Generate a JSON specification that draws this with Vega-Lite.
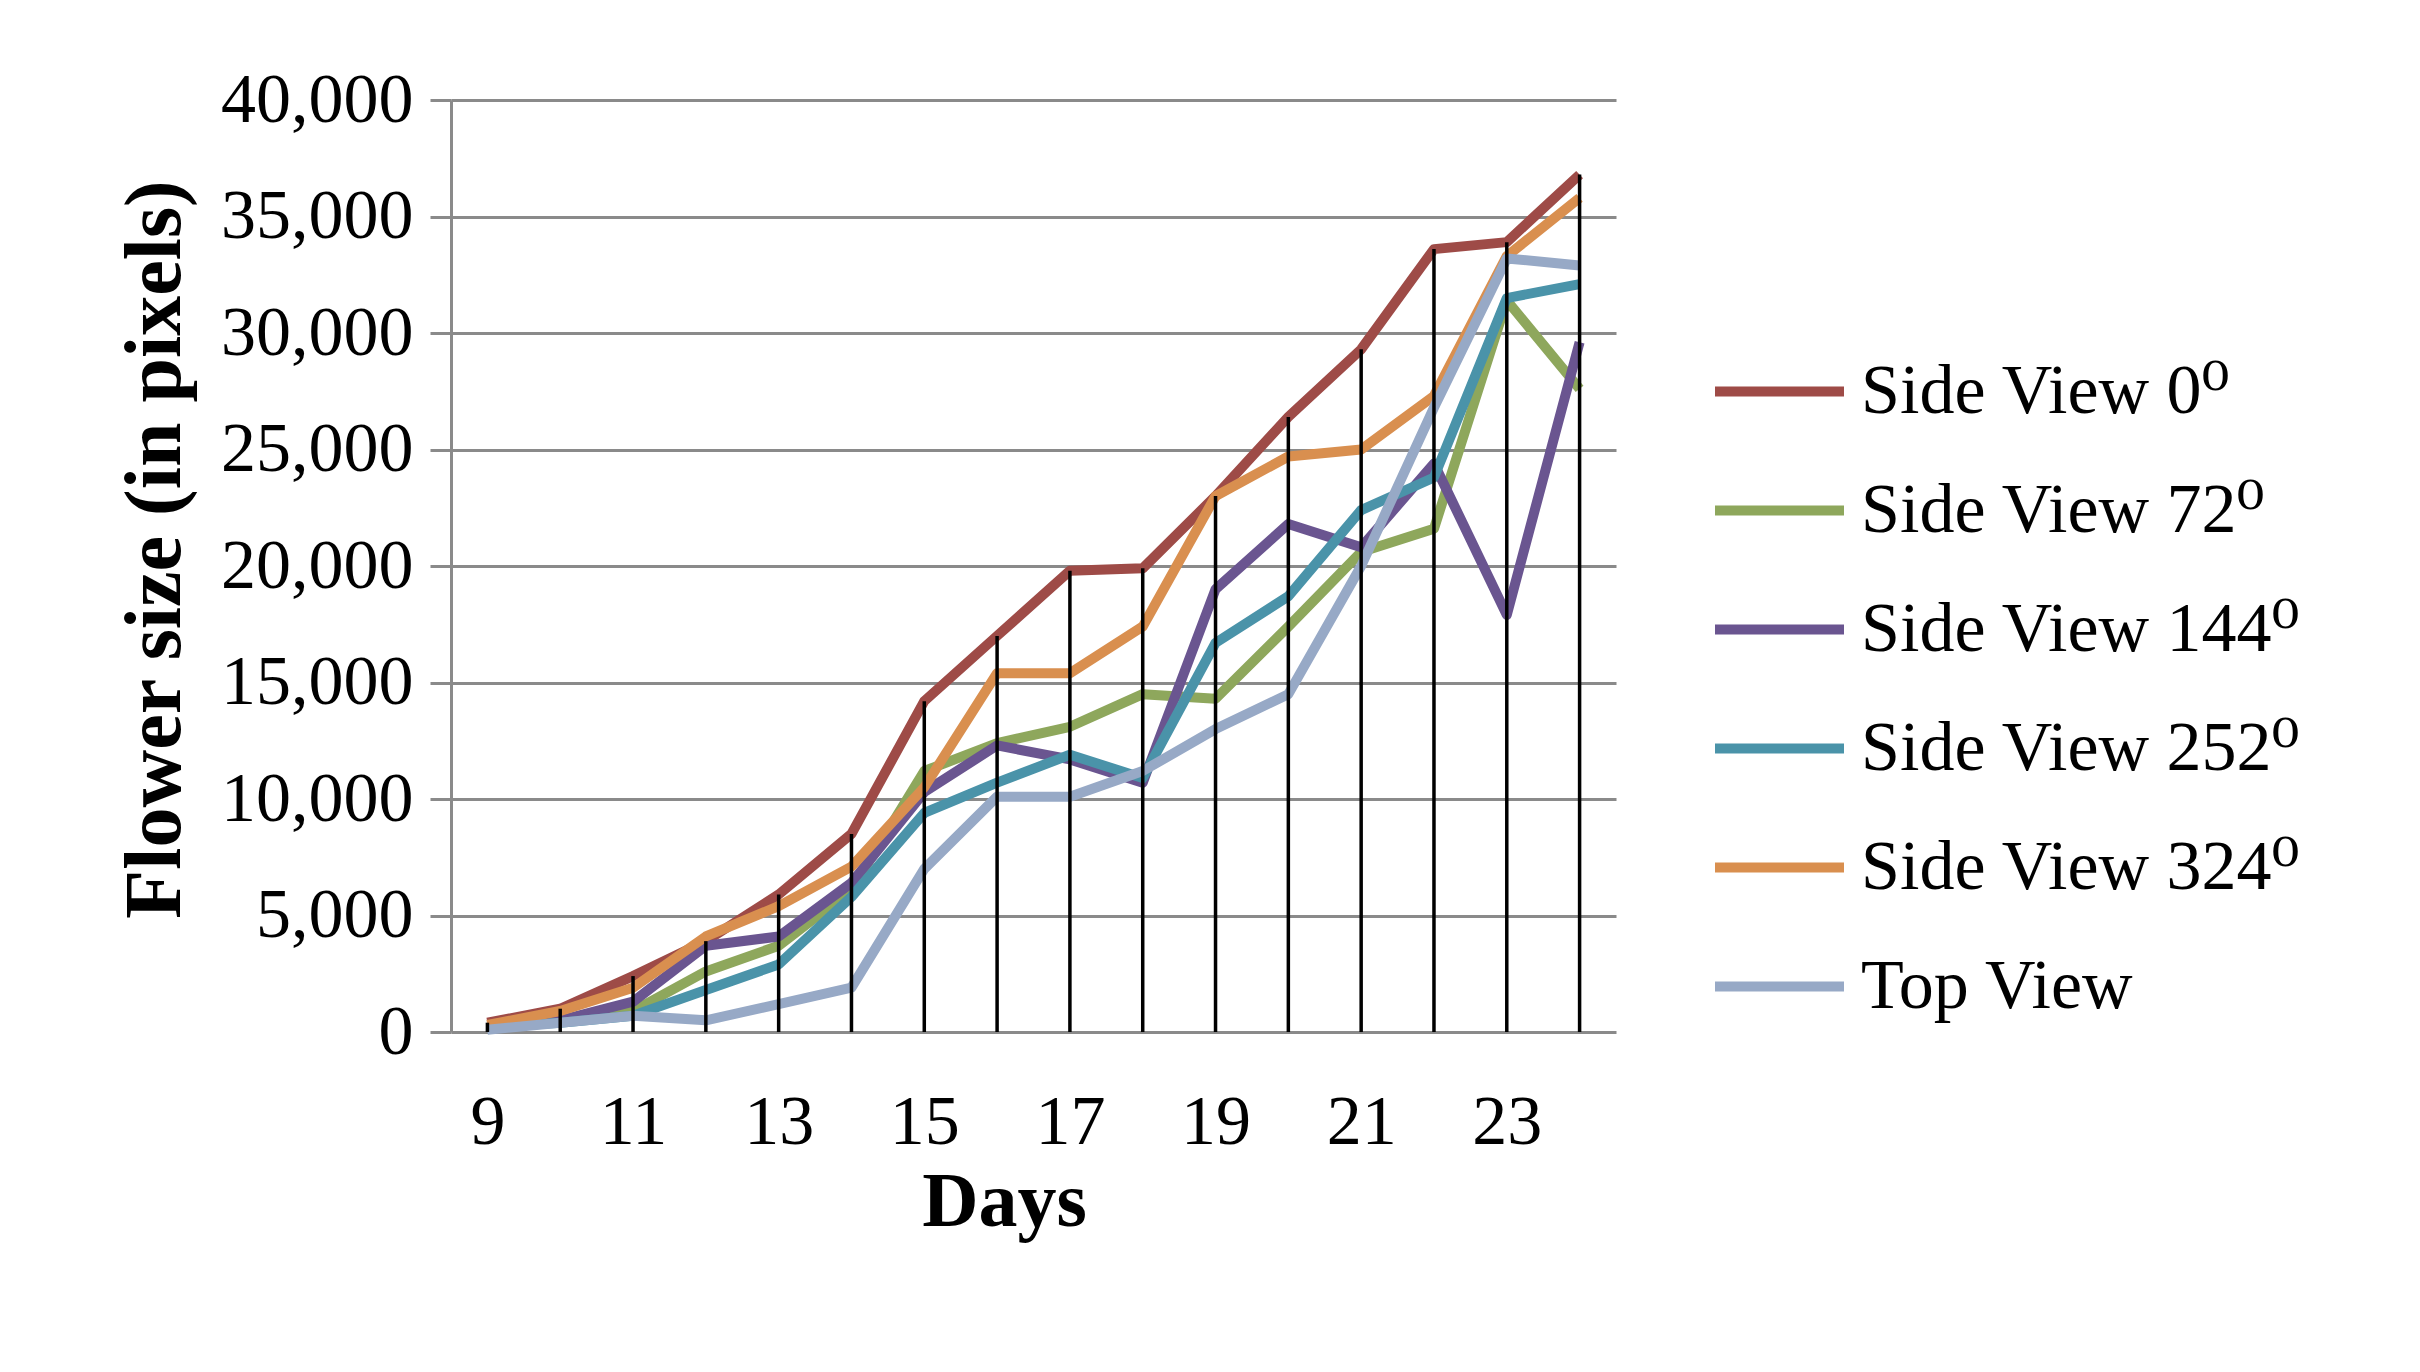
{
  "$schema": "https://vega.github.io/schema/vega-lite/v6.json",
  "autosize": {"type": "none"},
  "padding": {"left": 451, "top": 100, "right": 804, "bottom": 340},
  "width": 1165,
  "height": 932,
  "background": "white",
  "config": {
    "font": "Liberation Serif",
    "view": {"stroke": null},
    "axis": {"labelFont": "Liberation Serif", "titleFont": "Liberation Serif", "labelColor": "black", "titleColor": "black", "labelLimit": 0},
    "legend": {"labelFont": "Liberation Serif, DejaVu Serif", "labelLimit": 0}
  },
  "data": {
    "values": [
      {"day": 9, "series": "Side View 0⁰", "value": 400},
      {"day": 10, "series": "Side View 0⁰", "value": 1000},
      {"day": 11, "series": "Side View 0⁰", "value": 2400},
      {"day": 12, "series": "Side View 0⁰", "value": 3900},
      {"day": 13, "series": "Side View 0⁰", "value": 5900},
      {"day": 14, "series": "Side View 0⁰", "value": 8500},
      {"day": 15, "series": "Side View 0⁰", "value": 14200},
      {"day": 16, "series": "Side View 0⁰", "value": 17000},
      {"day": 17, "series": "Side View 0⁰", "value": 19800},
      {"day": 18, "series": "Side View 0⁰", "value": 19900},
      {"day": 19, "series": "Side View 0⁰", "value": 23000},
      {"day": 20, "series": "Side View 0⁰", "value": 26400},
      {"day": 21, "series": "Side View 0⁰", "value": 29300},
      {"day": 22, "series": "Side View 0⁰", "value": 33600},
      {"day": 23, "series": "Side View 0⁰", "value": 33900},
      {"day": 24, "series": "Side View 0⁰", "value": 36800},
      {"day": 9, "series": "Side View 72⁰", "value": 200},
      {"day": 10, "series": "Side View 72⁰", "value": 500},
      {"day": 11, "series": "Side View 72⁰", "value": 900},
      {"day": 12, "series": "Side View 72⁰", "value": 2600},
      {"day": 13, "series": "Side View 72⁰", "value": 3700},
      {"day": 14, "series": "Side View 72⁰", "value": 6100},
      {"day": 15, "series": "Side View 72⁰", "value": 11200},
      {"day": 16, "series": "Side View 72⁰", "value": 12400},
      {"day": 17, "series": "Side View 72⁰", "value": 13100},
      {"day": 18, "series": "Side View 72⁰", "value": 14500},
      {"day": 19, "series": "Side View 72⁰", "value": 14300},
      {"day": 20, "series": "Side View 72⁰", "value": 17400},
      {"day": 21, "series": "Side View 72⁰", "value": 20600},
      {"day": 22, "series": "Side View 72⁰", "value": 21600},
      {"day": 23, "series": "Side View 72⁰", "value": 31400},
      {"day": 24, "series": "Side View 72⁰", "value": 27600},
      {"day": 9, "series": "Side View 144⁰", "value": 200},
      {"day": 10, "series": "Side View 144⁰", "value": 500},
      {"day": 11, "series": "Side View 144⁰", "value": 1300},
      {"day": 12, "series": "Side View 144⁰", "value": 3700},
      {"day": 13, "series": "Side View 144⁰", "value": 4100},
      {"day": 14, "series": "Side View 144⁰", "value": 6400},
      {"day": 15, "series": "Side View 144⁰", "value": 10300},
      {"day": 16, "series": "Side View 144⁰", "value": 12300},
      {"day": 17, "series": "Side View 144⁰", "value": 11700},
      {"day": 18, "series": "Side View 144⁰", "value": 10700},
      {"day": 19, "series": "Side View 144⁰", "value": 19000},
      {"day": 20, "series": "Side View 144⁰", "value": 21800},
      {"day": 21, "series": "Side View 144⁰", "value": 20800},
      {"day": 22, "series": "Side View 144⁰", "value": 24400},
      {"day": 23, "series": "Side View 144⁰", "value": 17900},
      {"day": 24, "series": "Side View 144⁰", "value": 29600},
      {"day": 9, "series": "Side View 252⁰", "value": 200},
      {"day": 10, "series": "Side View 252⁰", "value": 400},
      {"day": 11, "series": "Side View 252⁰", "value": 700},
      {"day": 12, "series": "Side View 252⁰", "value": 1800},
      {"day": 13, "series": "Side View 252⁰", "value": 2900},
      {"day": 14, "series": "Side View 252⁰", "value": 5800},
      {"day": 15, "series": "Side View 252⁰", "value": 9400},
      {"day": 16, "series": "Side View 252⁰", "value": 10700},
      {"day": 17, "series": "Side View 252⁰", "value": 11900},
      {"day": 18, "series": "Side View 252⁰", "value": 10900},
      {"day": 19, "series": "Side View 252⁰", "value": 16700},
      {"day": 20, "series": "Side View 252⁰", "value": 18700},
      {"day": 21, "series": "Side View 252⁰", "value": 22400},
      {"day": 22, "series": "Side View 252⁰", "value": 23800},
      {"day": 23, "series": "Side View 252⁰", "value": 31500},
      {"day": 24, "series": "Side View 252⁰", "value": 32100},
      {"day": 9, "series": "Side View 324⁰", "value": 300},
      {"day": 10, "series": "Side View 324⁰", "value": 900},
      {"day": 11, "series": "Side View 324⁰", "value": 1900},
      {"day": 12, "series": "Side View 324⁰", "value": 4100},
      {"day": 13, "series": "Side View 324⁰", "value": 5400},
      {"day": 14, "series": "Side View 324⁰", "value": 7100},
      {"day": 15, "series": "Side View 324⁰", "value": 10500},
      {"day": 16, "series": "Side View 324⁰", "value": 15400},
      {"day": 17, "series": "Side View 324⁰", "value": 15400},
      {"day": 18, "series": "Side View 324⁰", "value": 17400},
      {"day": 19, "series": "Side View 324⁰", "value": 23000},
      {"day": 20, "series": "Side View 324⁰", "value": 24700},
      {"day": 21, "series": "Side View 324⁰", "value": 25000},
      {"day": 22, "series": "Side View 324⁰", "value": 27300},
      {"day": 23, "series": "Side View 324⁰", "value": 33300},
      {"day": 24, "series": "Side View 324⁰", "value": 35800},
      {"day": 9, "series": "Top View", "value": 100},
      {"day": 10, "series": "Top View", "value": 400},
      {"day": 11, "series": "Top View", "value": 700},
      {"day": 12, "series": "Top View", "value": 500},
      {"day": 13, "series": "Top View", "value": 1200},
      {"day": 14, "series": "Top View", "value": 1900},
      {"day": 15, "series": "Top View", "value": 7000},
      {"day": 16, "series": "Top View", "value": 10100},
      {"day": 17, "series": "Top View", "value": 10100},
      {"day": 18, "series": "Top View", "value": 11200},
      {"day": 19, "series": "Top View", "value": 13000},
      {"day": 20, "series": "Top View", "value": 14500},
      {"day": 21, "series": "Top View", "value": 20000},
      {"day": 22, "series": "Top View", "value": 26800},
      {"day": 23, "series": "Top View", "value": 33200},
      {"day": 24, "series": "Top View", "value": 32900}
    ]
  },
  "encoding": {
    "x": {
      "field": "day",
      "type": "quantitative",
      "scale": {"domain": [8.5, 24.5], "nice": false, "zero": false},
      "axis": {
        "values": [9, 11, 13, 15, 17, 19, 21, 23],
        "format": "d",
        "domain": false,
        "ticks": false,
        "grid": false,
        "labelFontSize": 70,
        "labelBaseline": "top",
        "labelPadding": 56,
        "title": "Days",
        "titleFontSize": 78,
        "titleFontWeight": "bold",
        "titleBaseline": "alphabetic",
        "titleX": 553,
        "titleY": 193
      }
    }
  },
  "layer": [
    {
      "mark": {"type": "line", "strokeWidth": 10, "strokeJoin": "round"},
      "encoding": {
        "y": {
          "field": "value",
          "type": "quantitative",
          "scale": {"domain": [0, 40000], "nice": false},
          "axis": {
            "values": [0, 5000, 10000, 15000, 20000, 25000, 30000, 35000, 40000],
            "format": ",d",
            "domainColor": "#8a8a8a",
            "domainWidth": 3,
            "gridColor": "#8a8a8a",
            "gridWidth": 3,
            "gridOpacity": 1,
            "tickColor": "#8a8a8a",
            "tickWidth": 3,
            "tickSize": 21,
            "labelFontSize": 70,
            "labelPadding": 17,
            "title": "Flower size (in pixels)",
            "titleFontSize": 80,
            "titleFontWeight": "bold",
            "titleAngle": -90,
            "titleAlign": "center",
            "titleBaseline": "middle",
            "titleX": -296,
            "titleY": 449
          }
        },
        "color": {
          "field": "series",
          "type": "nominal",
          "sort": null,
          "scale": {
            "domain": ["Side View 0⁰", "Side View 72⁰", "Side View 144⁰", "Side View 252⁰", "Side View 324⁰", "Top View"],
            "range": ["#9e4b47", "#8ea75c", "#6a5590", "#4a93a9", "#d98f4f", "#97a9c6"]
          },
          "legend": {
            "title": null,
            "orient": "none",
            "legendX": 1259,
            "legendY": 222,
            "symbolType": "stroke",
            "symbolSize": 16641,
            "symbolStrokeWidth": 10,
            "labelFontSize": 70,
            "labelOffset": 12,
            "labelColor": "black",
            "rowPadding": 14,
            "padding": 0
          }
        }
      }
    },
    {
      "transform": [{"filter": "datum.series === 'Side View 0⁰'"}],
      "mark": {"type": "rule", "color": "black", "strokeWidth": 3.5},
      "encoding": {
        "y": {"field": "value", "type": "quantitative"},
        "y2": {"datum": 0}
      }
    }
  ]
}
